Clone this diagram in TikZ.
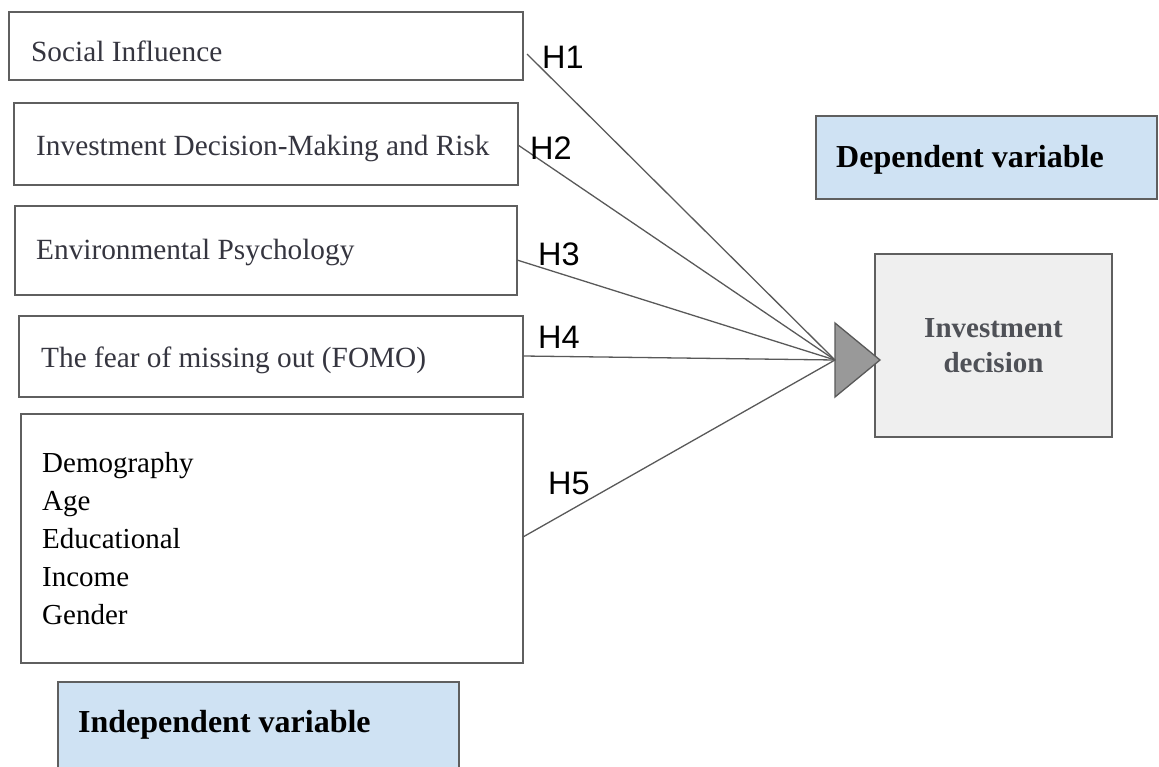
\documentclass[tikz,border=0pt]{standalone}
\usepackage{fontspec}
\setmainfont{Liberation Serif}
\newfontfamily\hfont{Liberation Sans}
\usetikzlibrary{calc}
\definecolor{lineg}{HTML}{595959}
\definecolor{boxg}{HTML}{5F5F5F}
\definecolor{lblue}{HTML}{CFE2F3}
\definecolor{lgray}{HTML}{EFEFEF}
\definecolor{trig}{HTML}{999999}
\definecolor{txtg}{HTML}{35353F}
\definecolor{invtxt}{HTML}{4F5157}
\tikzset{
  ivbox/.style={draw=boxg, line width=1.3pt, fill=white},
  bluebox/.style={draw=boxg, line width=1.3pt, fill=lblue},
  lbl/.style={anchor=base west, inner sep=0pt, font=\fontsize{29.3}{35}\selectfont, text=txtg},
  listlbl/.style={anchor=base west, inner sep=0pt, font=\fontsize{29}{35}\selectfont, text=black},
  boldlbl/.style={anchor=base west, inner sep=0pt, font=\fontsize{32}{38}\selectfont\bfseries, text=black},
  hlbl/.style={anchor=base west, inner sep=0pt, font=\hfont\fontsize{32.5}{38}\selectfont, text=black},
  conn/.style={draw=lineg, line width=1.3pt},
}
\begin{document}
\begin{tikzpicture}[x=1pt,y=-1pt]
\useasboundingbox (0,0) rectangle (1159,767);
% independent variable boxes
\draw[ivbox] (9,12) rectangle (523,80);
\draw[ivbox] (14,103) rectangle (518,185);
\draw[ivbox] (15,206) rectangle (517,295);
\draw[ivbox] (19,316) rectangle (523,397);
\draw[ivbox] (21,414) rectangle (523,663);
\coordinate (s1) at (527,54);
\coordinate (s2) at (518,145);
\coordinate (s3) at (517,260);
\coordinate (s4) at (523,356);
\coordinate (s5) at (523,537);
\node[lbl] (t1) at (31,62) {Social Influence};
\node[lbl] (t2) at (36,156) {Investment Decision-Making and Risk};
\node[lbl] (t3) at (36,260) {Environmental Psychology};
\node[lbl] (t4) at (41,367) {The fear of missing out (FOMO)};
\node[listlbl] (d1) at (42,472) {Demography};
\node[listlbl] (d2) at (42,510) {Age};
\node[listlbl] (d3) at (42,548) {Educational};
\node[listlbl] (d4) at (42,586) {Income};
\node[listlbl] (d5) at (42,624) {Gender};
% legend boxes
\draw[bluebox] (58,682) rectangle (459,800);
\node[boldlbl] (ind) at (78,732) {Independent variable};
\draw[bluebox] (816,116) rectangle (1157,199);
\node[boldlbl] (dep) at (836,168) {Dependent variable};
% dependent box
\node[draw=boxg, line width=1.3pt, fill=lgray, minimum width=237pt, minimum height=183pt, inner sep=0pt,
      align=center, text=invtxt, font=\fontsize{29}{35}\selectfont\bfseries] (inv) at (993.5,345.5) {Investment\\decision};
% triangle
\coordinate (tri) at (835,360);
\draw[draw=lineg, line width=1.3pt, fill=trig, line join=miter] (835,323) -- (880,360) -- (835,397) -- cycle;
% connectors
\draw[conn] (s1) -- (tri);
\draw[conn] (s2) -- (tri);
\draw[conn] (s3) -- (tri);
\draw[conn] (s4) -- (tri);
\draw[conn] (s5) -- (tri);
\node[hlbl] (h1) at (542,69) {H1};
\node[hlbl] (h2) at (530,160) {H2};
\node[hlbl] (h3) at (538,266) {H3};
\node[hlbl] (h4) at (538,348) {H4};
\node[hlbl] (h5) at (548,494) {H5};
\end{tikzpicture}
\end{document}
